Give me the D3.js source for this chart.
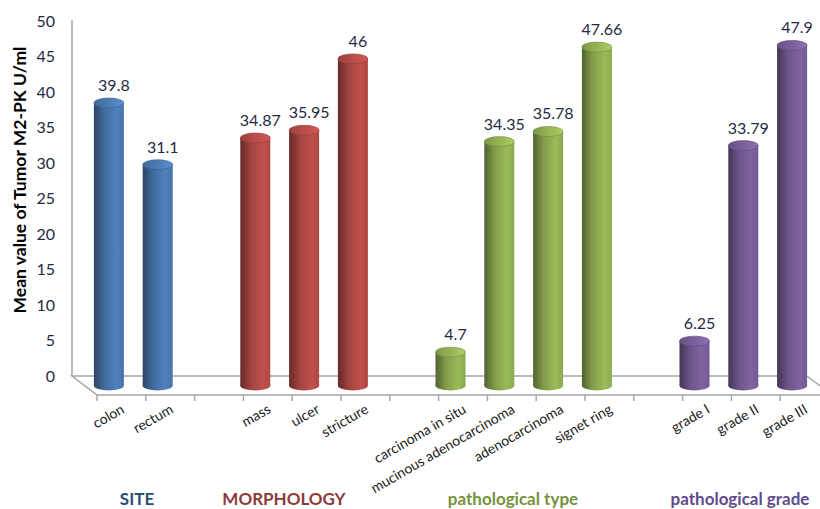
<!DOCTYPE html>
<html>
<head>
<meta charset="utf-8">
<script src="https://cdn.jsdelivr.net/npm/d3@7"></script>
<style>
  body { margin: 0; background: #fff; }
  svg { font-family: Lato, "Open Sans", sans-serif; }
</style>
</head>
<body>
<div id="chart"></div>
<script>
// data ("" = empty gap slot)
var categories = ["colon", "rectum", "", "mass", "ulcer", "stricture", "",
  "carcinoma in situ", "mucinous adenocarcinoma", "adenocarcinoma", "signet ring", "",
  "grade I", "grade II", "grade III"];
var values = [39.8, 31.1, null, 34.87, 35.95, 46, null,
  4.7, 34.35, 35.78, 47.66, null,
  6.25, 33.79, 47.9];
var valueLabels = ["39.8", "31.1", "", "34.87", "35.95", "46", "",
  "4.7", "34.35", "35.78", "47.66", "",
  "6.25", "33.79", "47.9"];
var groupOf = [0, 0, -1, 1, 1, 1, -1, 2, 2, 2, 2, -1, 3, 3, 3];
var groupNames = ["SITE", "MORPHOLOGY", "pathological type", "pathological grade"];
var groupColors = ["#4F81BD", "#C0504D", "#9BBB59", "#8064A2"];
var groupTextColors = ["#2C4D75", "#8A3A38", "#76923C", "#5F4B8B"];
var groupTitleX = [137, 284, 513, 740];
var yTicks = [0, 5, 10, 15, 20, 25, 30, 35, 40, 45, 50];

var svgWidth = 820;
var svgHeight = 509;

// back wall / floor geometry (3D look)
var backLeft = 72, backBottom = 376, backTop = 21;
var depthX = 25, depthY = 19;
var slot = 48.8;

var svg = d3.select("#chart")
  .append("svg")
  .attr("width", svgWidth)
  .attr("height", svgHeight);

var defs = svg.append("defs");

var yScale = d3.scaleLinear()
  .domain([0, 50])
  .range([backBottom, backTop]);

var xScale = d3.scaleBand()
  .domain(d3.range(categories.length))
  .range([backLeft + depthX, backLeft + depthX + slot * categories.length]);

// gradients per colour
groupColors.forEach(function(c, i) {
  var base = d3.color(c);
  var g = defs.append("linearGradient")
    .attr("id", "body" + i)
    .attr("x1", "0%").attr("x2", "100%").attr("y1", "0%").attr("y2", "0%");
  g.append("stop").attr("offset", "0%").attr("stop-color", base.darker(1.8));
  g.append("stop").attr("offset", "35%").attr("stop-color", base.darker(0.5));
  g.append("stop").attr("offset", "75%").attr("stop-color", base);
  g.append("stop").attr("offset", "100%").attr("stop-color", base.darker(0.3));

  var t = defs.append("linearGradient")
    .attr("id", "top" + i)
    .attr("x1", "0%").attr("x2", "100%").attr("y1", "0%").attr("y2", "0%");
  t.append("stop").attr("offset", "0%").attr("stop-color", base.darker(0.6));
  t.append("stop").attr("offset", "100%").attr("stop-color", base.brighter(0.3));
});

// y axis on back wall
var yAxis = d3.axisLeft(yScale).tickValues(yTicks).tickSize(0).tickPadding(17);
var yG = svg.append("g")
  .attr("transform", `translate(${backLeft}, 0)`)
  .call(yAxis);
yG.select(".domain").remove();
yG.selectAll("text")
  .attr("font-size", "16px")
  .attr("font-family", "Lato, sans-serif")
  .attr("fill", "#1F2A44");

svg.append("line")
  .attr("x1", backLeft).attr("x2", backLeft)
  .attr("y1", yScale(50) - 1).attr("y2", backBottom)
  .attr("stroke", "#A6A6A6").attr("stroke-width", 1.5);

// floor
var frontLeft = backLeft + depthX, frontY = backBottom + depthY;
var backRight = 807;
svg.append("path")
  .attr("d", `M${backRight},${backBottom} L${backLeft},${backBottom} L${frontLeft},${frontY} L${svgWidth + 5},${frontY}`)
  .attr("fill", "none")
  .attr("stroke", "#A6A6A6").attr("stroke-width", 1.5);
svg.append("line")
  .attr("x1", backRight).attr("y1", backBottom)
  .attr("x2", backRight + depthX).attr("y2", backBottom + depthY)
  .attr("stroke", "#A6A6A6").attr("stroke-width", 1.5);

// ticks on the front edge
svg.selectAll(".xtick")
  .data(d3.range(categories.length + 1))
  .enter()
  .append("line")
  .attr("x1", d => xScale.range()[0] + d * slot)
  .attr("x2", d => xScale.range()[0] + d * slot)
  .attr("y1", frontY)
  .attr("y2", frontY + 6)
  .attr("stroke", "#A6A6A6").attr("stroke-width", 1.5);

// bars as cylinders, placed half-way in depth
var barW = 30, ry = 5;
var bars = d3.range(categories.length).filter(i => values[i] !== null);
var cx = i => xScale(i) + xScale.bandwidth() / 2 - depthX / 2;
var vy = v => yScale(v) + depthY / 2;

var barG = svg.selectAll(".bar")
  .data(bars)
  .enter()
  .append("g");

barG.append("ellipse")
  .attr("cx", cx)
  .attr("cy", vy(0))
  .attr("rx", barW / 2)
  .attr("ry", ry)
  .attr("fill", d => `url(#body${groupOf[d]})`);

barG.append("rect")
  .attr("x", d => cx(d) - barW / 2)
  .attr("y", d => vy(values[d]))
  .attr("width", barW)
  .attr("height", d => vy(0) - vy(values[d]))
  .attr("fill", d => `url(#body${groupOf[d]})`);

barG.append("ellipse")
  .attr("cx", cx)
  .attr("cy", d => vy(values[d]))
  .attr("rx", barW / 2)
  .attr("ry", ry)
  .attr("fill", d => `url(#top${groupOf[d]})`)
  .attr("stroke", d => d3.color(groupColors[groupOf[d]]).darker(0.8))
  .attr("stroke-width", 0.6);

barG.append("text")
  .attr("x", d => cx(d) + 5)
  .attr("y", d => vy(values[d]) - 12)
  .attr("text-anchor", "middle")
  .attr("font-size", "16px")
  .attr("fill", "#1F2A44")
  .text(d => valueLabels[d]);

// category labels, rotated
svg.selectAll(".xlabel")
  .data(d3.range(categories.length).filter(i => categories[i] !== ""))
  .enter()
  .append("text")
  .attr("text-anchor", "end")
  .attr("font-size", "14px")
  .attr("fill", "#1A1A1A")
  .attr("transform", d => `translate(${xScale(d) + xScale.bandwidth() / 2 + 4}, ${frontY + 17}) rotate(-30)`)
  .text(d => categories[d]);

// group titles
svg.selectAll(".gtitle")
  .data(groupNames)
  .enter()
  .append("text")
  .attr("x", (d, i) => groupTitleX[i])
  .attr("y", 505)
  .attr("text-anchor", "middle")
  .attr("font-size", "17px")
  .attr("font-weight", "bold")
  .attr("fill", (d, i) => groupTextColors[i])
  .text(d => d);

// y axis title
svg.append("text")
  .attr("transform", "translate(26, 180) rotate(-90)")
  .attr("text-anchor", "middle")
  .attr("font-size", "17.5px")
  .attr("font-weight", "bold")
  .attr("fill", "#000")
  .text("Mean value of Tumor M2-PK U/ml");
</script>
</body>
</html>
